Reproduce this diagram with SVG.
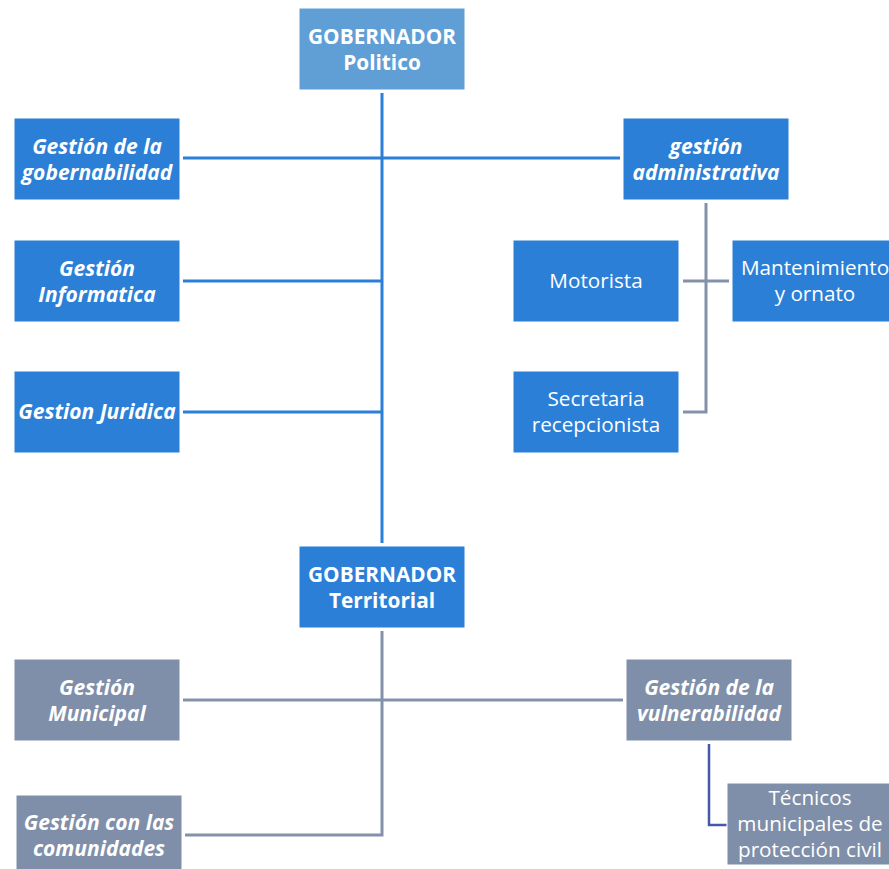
<svg xmlns="http://www.w3.org/2000/svg" width="889" height="869" viewBox="0 0 889 869">
<style>
.b{fill:#2b7fd7;stroke:#ffffff;stroke-width:1}
.lb{fill:#5f9fd6;stroke:#ffffff;stroke-width:1}
.g{fill:#7f8fa9;stroke:#ffffff;stroke-width:1}
text{font-family:"Open Sans","Liberation Sans",sans-serif;font-size:20.7px;fill:#ffffff;text-anchor:middle}
.bi{font-weight:bold;font-style:italic;font-size:21px}
.bd{font-weight:bold;font-size:20.8px}
.cb{stroke:#2b7fd7;stroke-width:3;fill:none}
.cg{stroke:#8491ab;stroke-width:3;fill:none}
.cd{stroke:#4459a8;stroke-width:2.5;fill:none}
</style>
<g id="connectors">
<path class="cb" d="M382 93V543M183 158H620M183 281H382M183 412H382"/>
<path class="cg" d="M706 203V412H683M683 281H729"/>
<path class="cg" d="M382 631V835H185M183 700H623"/>
<path class="cd" d="M709 744V825H727"/>
</g>
<g id="gob-politico"><rect class="lb" x="299" y="8" width="166" height="82"/><text class="bd" x="382" y="44">GOBERNADOR</text><text class="bd" x="382" y="70">Politico</text></g>
<g id="gobernabilidad"><rect class="b" x="14" y="118" width="166" height="82"/><text class="bi" x="97" y="154">Gestión de la</text><text class="bi" x="97" y="180">gobernabilidad</text></g>
<g id="informatica"><rect class="b" x="14" y="240" width="166" height="82"/><text class="bi" x="97" y="276">Gestión</text><text class="bi" x="97" y="302">Informatica</text></g>
<g id="juridica"><rect class="b" x="14" y="371" width="166" height="82"/><text class="bi" x="97" y="419">Gestion Juridica</text></g>
<g id="administrativa"><rect class="b" x="623" y="118" width="166" height="82"/><text class="bi" x="706" y="154">gestión</text><text class="bi" x="706" y="180">administrativa</text></g>
<g id="motorista"><rect class="b" x="513" y="240" width="166" height="82"/><text x="596" y="288">Motorista</text></g>
<g id="mantenimiento"><rect class="b" x="732" y="240" width="166" height="82"/><text x="815" y="275">Mantenimiento</text><text x="815" y="301">y ornato</text></g>
<g id="secretaria"><rect class="b" x="513" y="371" width="166" height="82"/><text x="596" y="406">Secretaria</text><text x="596" y="432">recepcionista</text></g>
<g id="gob-territorial"><rect class="b" x="299" y="546" width="166" height="82"/><text class="bd" x="382" y="582">GOBERNADOR</text><text class="bd" x="382" y="608">Territorial</text></g>
<g id="municipal"><rect class="g" x="14" y="659" width="166" height="82"/><text class="bi" x="97" y="695">Gestión</text><text class="bi" x="97" y="721">Municipal</text></g>
<g id="vulnerabilidad"><rect class="g" x="626" y="659" width="166" height="82"/><text class="bi" x="709" y="695">Gestión de la</text><text class="bi" x="709" y="721">vulnerabilidad</text></g>
<g id="comunidades"><rect class="g" x="16" y="795" width="166" height="82"/><text class="bi" x="99" y="830">Gestión con las</text><text class="bi" x="99" y="856">comunidades</text></g>
<g id="tecnicos"><rect class="g" x="727" y="783" width="166" height="82"/><text x="810" y="805">Técnicos</text><text x="810" y="831">municipales de</text><text x="810" y="857">protección civil</text></g>
</svg>
